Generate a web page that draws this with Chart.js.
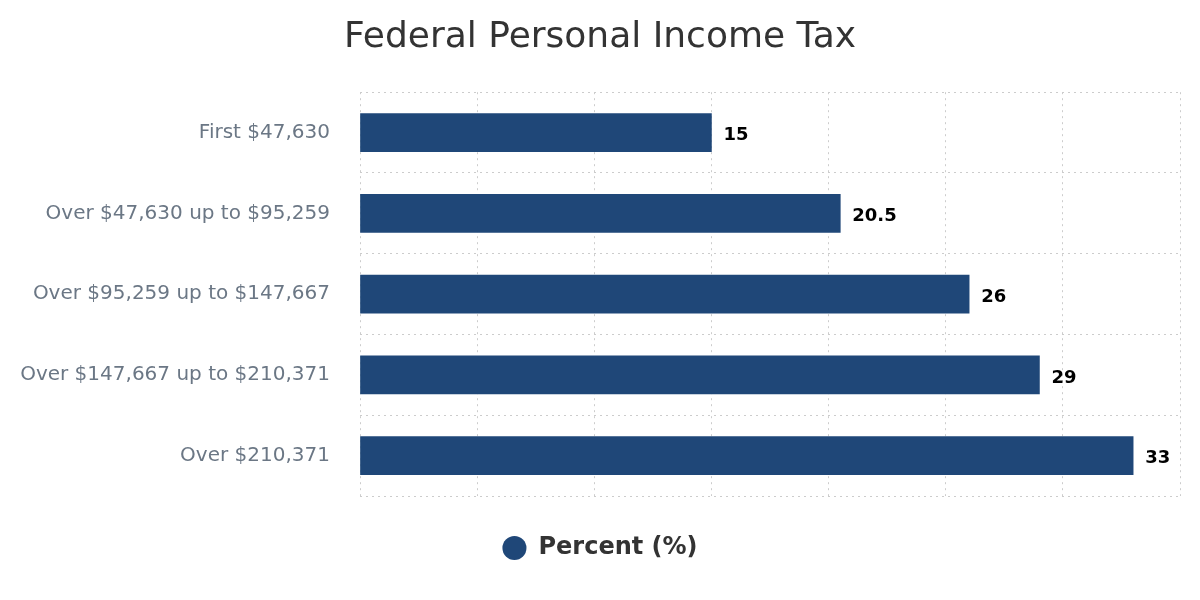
<!DOCTYPE html>
<html>
<head>
<meta charset="utf-8">
<script src="https://cdn.jsdelivr.net/npm/chart.js@4.4.0/dist/chart.umd.min.js"></script>
<style>
  html, body { margin: 0; padding: 0; background: #fff; }
  #wrap { width: 1200px; height: 600px; }
</style>
</head>
<body>
<div id="wrap"><canvas id="grafico"></canvas></div>
<script>
// Datos del gráfico
const tramos = ['First $47,630', 'Over $47,630 up to $95,259', 'Over $95,259 up to $147,667', 'Over $147,667 up to $210,371', 'Over $210,371'];
const porcentajes = [15, 20.5, 26, 29, 33];
const nombreSerie = 'Percent (%)';
const ejeMin = 0;
const ejeMax = 35;
const ejePaso = 5;

const fuente = "'DejaVu Sans', sans-serif";

// Etiquetas de valor al final de cada barra
const etiquetasValor = {
    id: 'etiquetasValor',
    afterDatasetsDraw(chart) {
        const ctx = chart.ctx;
        const meta = chart.getDatasetMeta(0);
        ctx.save();
        ctx.font = "bold 18px " + fuente;
        ctx.fillStyle = '#000';
        ctx.textAlign = 'left';
        ctx.textBaseline = 'middle';
        meta.data.forEach(function(bar, i) {
            ctx.fillText(String(porcentajes[i]), bar.x + 12, bar.y + 3);
        });
        ctx.restore();
    }
};

const ctx = document.getElementById('grafico').getContext('2d');
new Chart(ctx, {
    type: 'bar',
    data: {
        labels: tramos,
        datasets: [{
            label: nombreSerie,
            data: porcentajes,
            backgroundColor: '#1f4778',
            borderWidth: 0,
            barThickness: 38
        }]
    },
    options: {
        indexAxis: 'y',
        responsive: true,
        maintainAspectRatio: false,
        animation: false,
        layout: { padding: { left: 20, right: 20, top: 10, bottom: 30 } },
        scales: {
            x: {
                min: ejeMin,
                max: ejeMax,
                ticks: { display: false, stepSize: ejePaso },
                grid: { color: '#cccccc', lineWidth: 1, drawTicks: false },
                border: { display: false, dash: [2, 4] }
            },
            y: {
                afterFit: function(scale) { scale.width = 340; },
                ticks: {
                    color: '#6b7785',
                    padding: 30,
                    font: { family: fuente, size: 20 }
                },
                grid: { color: '#cccccc', lineWidth: 1, drawTicks: false, offset: true },
                border: { display: false, dash: [2, 4] }
            }
        },
        plugins: {
            title: {
                display: true,
                text: 'Federal Personal Income Tax',
                color: '#333',
                font: { family: fuente, size: 36, weight: 'normal' },
                padding: { top: 6, bottom: 33 }
            },
            legend: {
                position: 'bottom',
                labels: {
                    usePointStyle: true,
                    pointStyle: 'circle',
                    boxWidth: 24,
                    boxHeight: 17,
                    padding: 40,
                    color: '#333',
                    font: { family: fuente, size: 24, weight: 'bold' }
                }
            },
            tooltip: { enabled: false }
        }
    },
    plugins: [etiquetasValor]
});
</script>
</body>
</html>
